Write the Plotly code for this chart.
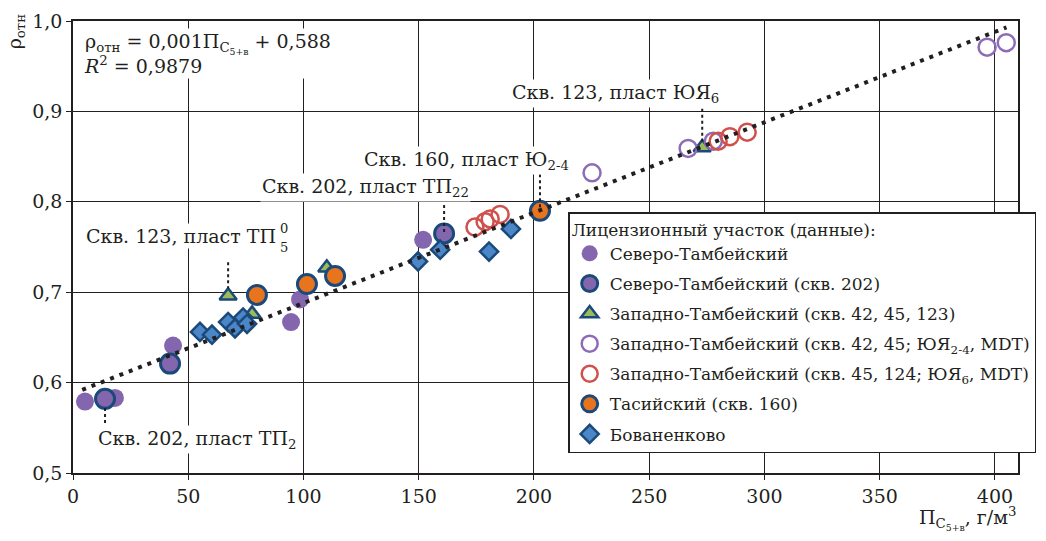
import plotly.graph_objects as go

# ---------------- data ----------------
sev_x = [5.2, 18.2, 43.4, 94.6, 98.5, 151.9]
sev_y = [0.579, 0.583, 0.641, 0.667, 0.692, 0.758]

sev202_x = [13.9, 42.1, 161.0]
sev202_y = [0.582, 0.621, 0.765]

zap_tri_x = [67.3, 77.7, 110.1, 273.0]
zap_tri_y = [0.696, 0.676, 0.727, 0.860]

zap_yuya24_x = [225.2, 266.9, 277.8, 396.6, 404.9]
zap_yuya24_y = [0.832, 0.859, 0.867, 0.971, 0.976]

zap_yuya6_x = [174.4, 178.8, 181.0, 185.3, 279.9, 285.0, 292.5]
zap_yuya6_y = [0.772, 0.778, 0.781, 0.786, 0.867, 0.872, 0.877]

tas_x = [79.8, 101.5, 113.7, 202.6]
tas_y = [0.697, 0.709, 0.718, 0.790]

bov_x = [55.1, 60.3, 67.3, 70.3, 73.8, 75.5, 149.7, 159.3, 180.5, 190.0]
bov_y = [0.656, 0.653, 0.667, 0.660, 0.672, 0.665, 0.734, 0.747, 0.745, 0.770]

# regression: rho = 0.001*P + 0.588
fit_slope = 0.001
fit_intercept = 0.588
fit_x = [4.0, 405.0]
fit_y = [fit_slope * v + fit_intercept for v in fit_x]

x_ticks = [0, 50, 100, 150, 200, 250, 300, 350, 400]
y_ticks = [0.5, 0.6, 0.7, 0.8, 0.9, 1.0]
y_ticktext = ["0,5", "0,6", "0,7", "0,8", "0,9", "1,0"]

# ---------------- style ----------------
INK = "#231F20"
PURPLE = "#8466AE"
DBLUE = "#1B4A7A"
GREEN = "#9BBB59"
RED = "#D0504B"
ORANGE = "#E8741E"
BLUE = "#4A86C8"
FONT = "DejaVu Serif"
FS = 19
LFS = 17

fig = go.Figure()

def add(x, y, name, grp, marker):
    fig.add_trace(go.Scatter(x=x, y=y, mode="markers", name=name, legendgroup=grp, marker=marker))

add(sev_x, sev_y, "Северо-Тамбейский", "g1",
    dict(symbol="circle", size=18, color=PURPLE, line=dict(width=0)))
add(sev202_x, sev202_y, "Северо-Тамбейский (скв. 202)", "g2",
    dict(symbol="circle", size=19, color=PURPLE, line=dict(width=3, color=DBLUE)))
add(zap_tri_x, zap_tri_y, "Западно-Тамбейский (скв. 42, 45, 123)", "g3",
    dict(symbol="triangle-up", size=15, color=GREEN, line=dict(width=2.5, color=DBLUE)))
add(zap_yuya24_x, zap_yuya24_y, "Западно-Тамбейский (скв. 42, 45; ЮЯ<sub>2-4</sub>, MDT)", "g4",
    dict(symbol="circle-open", size=17, color="#8E6BB8", line=dict(width=2.5)))
add(zap_yuya6_x, zap_yuya6_y, "Западно-Тамбейский (скв. 45, 124; ЮЯ<sub>6</sub>, MDT)", "g5",
    dict(symbol="circle-open", size=17, color=RED, line=dict(width=2.5)))
add(tas_x, tas_y, "Тасийский (скв. 160)", "g6",
    dict(symbol="circle", size=19, color=ORANGE, line=dict(width=3, color=DBLUE)))
add(bov_x, bov_y, "Бованенково", "g7",
    dict(symbol="diamond", size=14, color=BLUE, line=dict(width=2.5, color=DBLUE)))
fig.add_trace(go.Scatter(x=fit_x, y=fit_y, mode="lines", showlegend=False, hoverinfo="skip",
                         line=dict(color=INK, width=4, dash="4px,6px")))

# ---------------- annotations ----------------
annots = []
shapes = []

def leader(x, y0, y1):
    shapes.append(dict(type="line", xref="x", yref="y", x0=x, x1=x, y0=y0, y1=y1,
                       line=dict(color=INK, width=2, dash="dot")))

def label(x, y, text, xanchor="left", size=FS):
    annots.append(dict(x=x, y=y, xref="x", yref="y", text=text, showarrow=False,
                       xanchor=xanchor, yanchor="middle", bgcolor="white", borderpad=1,
                       font=dict(family=FONT, size=size, color=INK)))

# Скв. 123, пласт ТП05
label(89.0, 0.762, "Скв. 123, пласт ТП", xanchor="right")
annots.append(dict(x=89.0, y=0.771, xref="x", yref="y", text="0", showarrow=False, xanchor="left",
                   font=dict(family=FONT, size=13, color=INK)))
annots.append(dict(x=89.0, y=0.749, xref="x", yref="y", text="5", showarrow=False, xanchor="left",
                   font=dict(family=FONT, size=13, color=INK)))
leader(zap_tri_x[0], zap_tri_y[0] + 0.037, zap_tri_y[0] + 0.008)

# Скв. 202, пласт ТП22
label(81.0, 0.816, "Скв. 202, пласт ТП<sub>22</sub>")
leader(sev202_x[2], sev202_y[2] + 0.038, sev202_y[2])

# Скв. 160, пласт Ю2-4
label(125.5, 0.846, "Скв. 160, пласт Ю<sub>2-4</sub>")
leader(tas_x[3], tas_y[3] + 0.047, tas_y[3])

# Скв. 123, пласт ЮЯ6
label(189.5, 0.920, "Скв. 123, пласт ЮЯ<sub>6</sub>")
leader(zap_tri_x[3], zap_tri_y[3] + 0.043, zap_tri_y[3] + 0.005)

# Скв. 202, пласт ТП2
label(10.0, 0.537, "Скв. 202, пласт ТП<sub>2</sub>")
leader(sev202_x[0], sev202_y[0] - 0.010, sev202_y[0] - 0.043)

# equation
annots.append(dict(x=0.009, y=0.985, xref="paper", yref="paper", xanchor="left", yanchor="top",
                   align="left", showarrow=False, bgcolor="white",
                   text="ρ<sub>отн</sub> = 0,001П<sub>C<sub>5+в</sub></sub> + 0,588<br><i>R</i><sup>2</sup> = 0,9879",
                   font=dict(family=FONT, size=FS, color=INK)))

# axis titles
annots.append(dict(x=-0.061, y=1.0, xref="paper", yref="paper", xanchor="center", yanchor="top",
                   yshift=10, showarrow=False, textangle=-90, text="ρ<sub>отн</sub>",
                   font=dict(family=FONT, size=FS, color=INK)))
annots.append(dict(x=1.0, y=0, xref="paper", yref="paper", xanchor="right", yanchor="top",
                   yshift=-29, showarrow=False, text="П<sub>C<sub>5+в</sub></sub>, г/м<sup>3</sup>",
                   font=dict(family=FONT, size=FS, color=INK)))

axis_common = dict(showgrid=True, gridcolor=INK, gridwidth=1.3, showline=True, linecolor=INK,
                   linewidth=1.5, mirror=True, ticks="outside", ticklen=5, tickcolor=INK,
                   zeroline=False, tickfont=dict(family=FONT, size=FS, color=INK))

fig.update_layout(
    width=1038, height=533,
    margin=dict(l=65, r=28, t=13, b=68, autoexpand=False),
    paper_bgcolor="white", plot_bgcolor="white",
    font=dict(family=FONT, size=FS, color=INK),
    xaxis=dict(range=[0, 410], tickvals=x_ticks, **axis_common),
    yaxis=dict(range=[0.5, 1.0], tickvals=y_ticks, ticktext=y_ticktext, **axis_common),
    legend=dict(x=0.524, y=0.577, xanchor="left", yanchor="top", bgcolor="white",
                bordercolor=INK, borderwidth=1.5, tracegroupgap=5, traceorder="grouped",
                title=dict(text="Лицензионный участок (данные):", font=dict(family=FONT, size=LFS, color=INK)),
                font=dict(family=FONT, size=LFS, color=INK)),
    annotations=annots, shapes=shapes,
    showlegend=True,
)

fig.write_html("out.html")
